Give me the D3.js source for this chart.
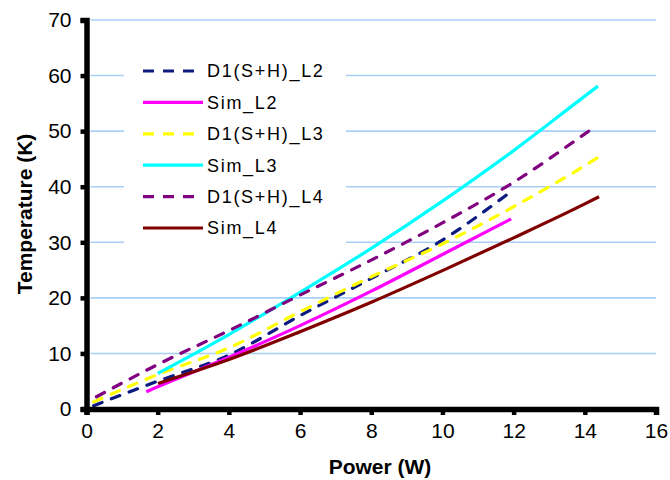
<!DOCTYPE html>
<html>
<head>
<meta charset="utf-8">
<script src="https://cdn.jsdelivr.net/npm/d3@7/dist/d3.min.js"></script>
<style>
  html, body { margin: 0; padding: 0; background: #fff; }
  svg { display: block; }
  text { font-family: "Liberation Sans", Arial, sans-serif; fill: #000; }
</style>
</head>
<body>
<svg id="chart" width="670" height="480"></svg>
<script>
// Temperature rise against heating power, measured (D1) and simulated (Sim) for three layers
const seriesNames = ["D1(S+H)_L2", "Sim_L2", "D1(S+H)_L3", "Sim_L3", "D1(S+H)_L4", "Sim_L4"];
const seriesColors = ["#0d1a80", "#ff00ff", "#ffff00", "#00ffff", "#800080", "#800000"];
const seriesDashed = [true, false, true, false, true, false];

const powerD1L2 = [0.2, 2, 4, 6, 8, 10, 11.9];
const tempD1L2  = [0.6, 5.0, 9.7, 16.8, 23.5, 30.4, 39.0];

const powerSimL2 = [1.68, 2, 4, 6, 8, 10, 11.93];
const tempSimL2  = [3.1, 4.0, 9.3, 15.0, 21.2, 27.8, 34.2];

const powerD1L3 = [0.2, 2, 4, 6, 8, 10, 12, 14, 14.4];
const tempD1L3  = [1.3, 6.2, 11.0, 17.5, 23.8, 29.7, 36.4, 43.8, 45.4];

const powerSimL3 = [2, 4, 6, 8, 10, 12, 14, 14.37];
const tempSimL3  = [6.4, 13.4, 21.0, 28.9, 37.4, 46.5, 56.3, 58.1];

const powerD1L4 = [0.28, 2, 4, 6, 8, 10, 12, 14, 14.2];
const tempD1L4  = [2.2, 8.0, 14.1, 20.5, 26.8, 33.5, 40.8, 49.5, 50.4];

const powerSimL4 = [2.01, 4, 6, 8, 10, 12, 14, 14.4];
const tempSimL4  = [4.6, 8.9, 13.9, 19.2, 24.9, 30.8, 36.9, 38.2];

const xTicks = [0, 2, 4, 6, 8, 10, 12, 14, 16];
const yTicks = [0, 10, 20, 30, 40, 50, 60, 70];
const xTitle = "Power (W)";
const yTitle = "Temperature (K)";

const powers = [powerD1L2, powerSimL2, powerD1L3, powerSimL3, powerD1L4, powerSimL4];
const temps  = [tempD1L2, tempSimL2, tempD1L3, tempSimL3, tempD1L4, tempSimL4];

const series = seriesNames.map((name, i) => ({
  name,
  color: seriesColors[i],
  dashed: seriesDashed[i],
  points: powers[i].map((p, j) => ({ p, t: temps[i][j] }))
}));

const svg = d3.select("#chart");
const x = d3.scaleLinear().domain([0, 16]).range([86.5, 656]);
const y = d3.scaleLinear().domain([0, 70]).range([409, 20]);

// horizontal grid lines
svg.append("g")
  .selectAll("line")
  .data(yTicks.filter(v => v > 0))
  .join("line")
  .attr("x1", x(0) + 4).attr("x2", x(16))
  .attr("y1", d => y(d)).attr("y2", d => y(d))
  .attr("stroke", "#a9cff7").attr("stroke-width", 1.6);

// data lines
const line = d3.line()
  .x(d => x(d.p)).y(d => y(d.t))
  .curve(d3.curveMonotoneX);

svg.append("g")
  .selectAll("path")
  .data(series)
  .join("path")
  .attr("d", d => line(d.points))
  .attr("fill", "none")
  .attr("stroke", d => d.color)
  .attr("stroke-width", 3.2)
  .attr("stroke-linecap", d => d.dashed ? "round" : "butt")
  .attr("stroke-dasharray", d => d.dashed ? "9,10" : null);

// legend on a white panel that hides the grid behind it
const legend = svg.append("g");
legend.append("rect")
  .attr("x", 124).attr("y", 52).attr("width", 222).attr("height", 194)
  .attr("fill", "#fff");
const rowY = i => 71 + i * 31.4;
const items = legend.selectAll("g.item").data(series).join("g").attr("class", "item");
items.append("line")
  .attr("x1", 143).attr("x2", 203)
  .attr("y1", (d, i) => rowY(i)).attr("y2", (d, i) => rowY(i))
  .attr("stroke", d => d.color)
  .attr("stroke-width", 3.2)
  .attr("stroke-dasharray", d => d.dashed ? "11,9" : null);
items.append("text")
  .attr("x", 207).attr("y", (d, i) => rowY(i))
  .attr("dy", "0.35em")
  .attr("font-size", 18)
  .attr("letter-spacing", 1.7)
  .text(d => d.name);

// axes
const xAxis = svg.append("g").attr("transform", `translate(0,${y(0)})`)
  .call(d3.axisBottom(x).tickValues(xTicks).tickSize(6).tickPadding(8));
const yAxis = svg.append("g").attr("transform", `translate(${x(0)},0)`)
  .call(d3.axisLeft(y).tickValues(yTicks).tickSize(6).tickPadding(9));

[xAxis, yAxis].forEach(g => {
  g.select(".domain").attr("stroke", "#000").attr("stroke-width", 5.5);
  g.selectAll(".tick line").attr("stroke", "#000").attr("stroke-width", 4.5);
  g.selectAll(".tick text")
    .attr("font-family", "Liberation Sans, Arial, sans-serif")
    .attr("font-size", 21)
    .attr("fill", "#000");
});

// axis titles
svg.append("text")
  .attr("x", 380).attr("y", 474)
  .attr("text-anchor", "middle")
  .attr("font-size", 21).attr("font-weight", "bold")
  .text(xTitle);

svg.append("text")
  .attr("transform", `translate(32,${214}) rotate(-90)`)
  .attr("text-anchor", "middle")
  .attr("font-size", 21).attr("font-weight", "bold")
  .text(yTitle);
</script>
</body>
</html>
